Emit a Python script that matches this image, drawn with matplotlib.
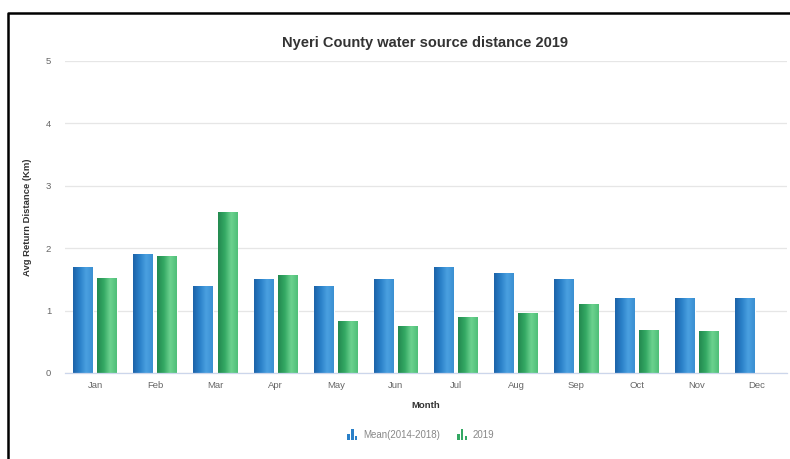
import numpy as np
import matplotlib.pyplot as plt
from matplotlib.colors import LinearSegmentedColormap
from matplotlib.legend_handler import HandlerBase
from matplotlib.patches import Rectangle
from matplotlib.lines import Line2D

plt.rcParams['font.family'] = ['Liberation Sans', 'DejaVu Sans']

months = ["Jan", "Feb", "Mar", "Apr", "May", "Jun",
          "Jul", "Aug", "Sep", "Oct", "Nov", "Dec"]
mean_2014_2018 = [1.7, 1.9, 1.4, 1.5, 1.4, 1.5, 1.7, 1.6, 1.5, 1.2, 1.2, 1.2]
year_2019 = [1.52, 1.88, 2.58, 1.57, 0.83, 0.76, 0.9, 0.96, 1.1, 0.69, 0.67, np.nan]
series_names = ["Mean(2014-2018)", "2019"]

blue_cmap = LinearSegmentedColormap.from_list(
    "blue", ["#1c62a8", "#2a80c8", "#4aa0e0", "#3a8fd2"])
green_cmap = LinearSegmentedColormap.from_list(
    "green", ["#23894f", "#33a863", "#6cd28f", "#4fbf78"])


def shade_bars(ax, bars, cmap):
    # paint each bar with a left-to-right gradient clipped to its shape
    grad = np.linspace(0, 1, 64).reshape(1, -1)
    for b in bars:
        h = b.get_height()
        if not np.isfinite(h) or h <= 0:
            continue
        x0 = b.get_x()
        x1 = x0 + b.get_width()
        im = ax.imshow(grad, cmap=cmap, aspect="auto",
                       extent=(x0, x1, 0, h), zorder=2, interpolation="bicubic")
        im.set_clip_path(b)
        b.set_facecolor("none")


class BarIconHandler(HandlerBase):
    def __init__(self, color):
        super().__init__()
        self.color = color

    def create_artists(self, legend, orig_handle, xdescent, ydescent,
                       width, height, fontsize, trans):
        arts = []
        bw = width / 4.2
        for k, frac in enumerate([0.6, 1.0, 0.4]):
            r = Rectangle((-xdescent + k * bw * 1.4, -ydescent - height * 0.15),
                          bw, height * frac * 1.3,
                          facecolor=self.color, edgecolor="none", transform=trans)
            arts.append(r)
        return arts


fig = plt.figure(figsize=(7.9, 4.59), dpi=100)
ax = fig.add_axes([65 / 790, 1 - 373 / 459, 722 / 790, 312 / 459])

x = np.arange(len(months))
w = 0.33
bars1 = ax.bar(x - 0.2, mean_2014_2018, w, color="#2a80c8",
               edgecolor="white", linewidth=0.8, zorder=2)
bars2 = ax.bar(x + 0.2, year_2019, w, color="#33a863",
               edgecolor="white", linewidth=0.8, zorder=2)
shade_bars(ax, bars1, blue_cmap)
shade_bars(ax, bars2, green_cmap)

ax.set_xlim(-0.5, len(months) - 0.5)
ax.set_ylim(0, 5)
ax.set_yticks(range(6))
ax.set_xticks(x)
ax.set_xticklabels(months)
ax.tick_params(axis="both", length=0, labelsize=6.8, labelcolor="#666666")
ax.tick_params(axis="y", pad=10)
ax.tick_params(axis="x", pad=6)
ax.grid(axis="y", color="#e6e6e6", linewidth=0.9, zorder=0)
for s in ["top", "right", "left"]:
    ax.spines[s].set_visible(False)
ax.spines["bottom"].set_color("#ccd6eb")
ax.spines["bottom"].set_linewidth(0.9)
ax.spines["bottom"].set_zorder(3)

ax.set_ylabel("Avg Return Distance (Km)", fontsize=6.8, fontweight="bold",
              color="#333333", labelpad=10)
ax.set_xlabel("Month", fontsize=6.8, fontweight="bold", color="#333333",
              labelpad=8)
fig.text(425 / 790, 1 - 43 / 459, "Nyeri County water source distance 2019",
         ha="center", va="center", fontsize=10.5, fontweight="bold",
         color="#333333")

h1 = Rectangle((0, 0), 1, 1)
h2 = Rectangle((0, 0), 1, 1)
leg = fig.legend([h1, h2], series_names, loc="center",
                 bbox_to_anchor=(421 / 790, 1 - 435 / 459), ncol=2,
                 frameon=False, fontsize=7, handlelength=1.1,
                 handleheight=0.9, handletextpad=0.5, columnspacing=1.8,
                 handler_map={h1: BarIconHandler("#2a80c8"),
                              h2: BarIconHandler("#33a863")})
for t in leg.get_texts():
    t.set_color("#888888")

# frame around the chart (top and left edges)
fig.add_artist(Line2D([8 / 790, 8 / 790, 1.0], [0.0, 1 - 13 / 459, 1 - 13 / 459],
                      transform=fig.transFigure, color="black", linewidth=1.8))

fig.savefig("out.png", dpi=100)
